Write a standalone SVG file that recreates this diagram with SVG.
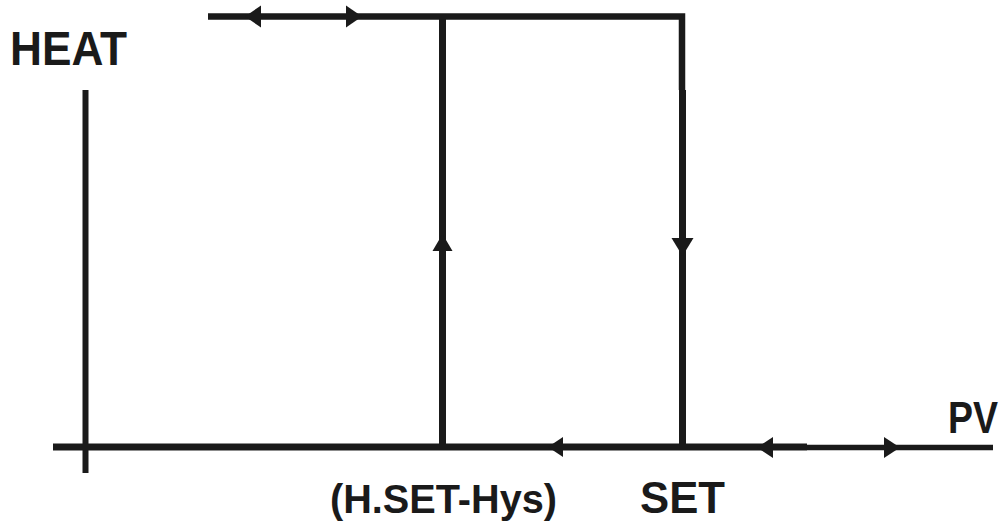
<svg xmlns="http://www.w3.org/2000/svg" width="1007" height="527" viewBox="0 0 1007 527">
<style>
.ln{stroke:#1a1a1a;fill:none;stroke-linecap:butt;stroke-linejoin:miter}
.ah{fill:#1a1a1a}
.t{font-family:"Liberation Sans",Arial,sans-serif;font-weight:bold;fill:#1a1a1a}
</style>
<rect width="1007" height="527" fill="#fff"/>
<g id="axes">
<line class="ln" x1="85.5" y1="90" x2="85.5" y2="473" stroke-width="6"/>
<line class="ln" x1="53" y1="447" x2="807" y2="447" stroke-width="7"/>
<line class="ln" x1="807" y1="447.5" x2="993" y2="447.5" stroke-width="5.5"/>
</g>
<g id="connectors">
<polyline class="ln" points="208,16.5 682,16.5 682,90" stroke-width="6.5"/>
<line class="ln" x1="682.5" y1="90" x2="682.5" y2="447" stroke-width="7"/>
<line class="ln" x1="442.5" y1="16" x2="442.5" y2="447" stroke-width="7"/>
<polygon class="ah" points="245,16.5 261,5.5 261,27.5"/>
<polygon class="ah" points="362,16.5 346,5.5 346,27.5"/>
<polygon class="ah" points="442.5,234 432.5,251 452.5,251"/>
<polygon class="ah" points="682.5,256 671.5,238 693.5,238"/>
<polygon class="ah" points="548,447 563,437 563,457"/>
<polygon class="ah" points="757,447.5 773,437 773,458"/>
<polygon class="ah" points="900,447.5 884,437 884,458"/>
</g>
<g id="labels">
<text class="t" x="10" y="65" font-size="48" textLength="117" lengthAdjust="spacingAndGlyphs">HEAT</text>
<text class="t" x="948" y="433" font-size="45" textLength="50" lengthAdjust="spacingAndGlyphs">PV</text>
<text class="t" x="330" y="513" font-size="41" textLength="227" lengthAdjust="spacingAndGlyphs">(H.SET-Hys)</text>
<text class="t" x="640" y="513" font-size="44" textLength="85" lengthAdjust="spacingAndGlyphs">SET</text>
</g>
</svg>
